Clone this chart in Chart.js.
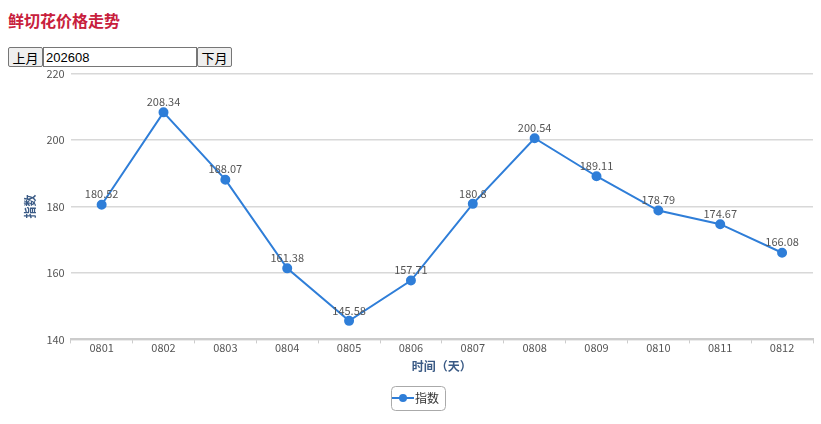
<!DOCTYPE html>
<html>
<head>
<meta charset="utf-8">
<script src="https://cdn.jsdelivr.net/npm/chart.js@4"></script>
<style>
  body { margin: 0; background: #fff; font-family: "Noto Sans CJK SC", sans-serif; }
  h3 { position: absolute; left: 8px; top: 8px; margin: 0; font-size: 16px; font-weight: bold; color: #c8203c; }
  .ctrl { position: absolute; left: 8px; top: 47px; display: flex; }
  .ctrl button { height: 20px; padding: 0 3.5px; font-size: 13px; font-family: "Noto Sans CJK SC", sans-serif; border: 1px solid #767676; background: #efefef; border-radius: 2px; }
  .ctrl input { width: 148px; height: 16px; padding: 1px 2px; font-size: 13px; border: 1px solid #767676; font-family: Arial, sans-serif; }
  #wrap { position: absolute; left: 0; top: 61px; width: 821px; height: 363px; }
</style>
</head>
<body>
<h3>鲜切花价格走势</h3>
<div class="ctrl"><button>上月</button><input value="202608"><button>下月</button></div>
<div id="wrap"><canvas id="myChart"></canvas></div>
<script>
const days = ["0801", "0802", "0803", "0804", "0805", "0806", "0807", "0808", "0809", "0810", "0811", "0812"];
const indexValues = [180.52, 208.34, 188.07, 161.38, 145.58, 157.71, 180.8, 200.54, 189.11, 178.79, 174.67, 166.08];
const yTicks = [140, 160, 180, 200, 220];

const blue = "#2f7ed8";
const font = "'Noto Sans CJK SC', sans-serif";

// little line + dot for the legend
const legendIcon = document.createElement("canvas");
legendIcon.width = 22;
legendIcon.height = 10;
const ic = legendIcon.getContext("2d");
ic.strokeStyle = blue;
ic.lineWidth = 2;
ic.beginPath();
ic.moveTo(0, 5);
ic.lineTo(22, 5);
ic.stroke();
ic.fillStyle = blue;
ic.beginPath();
ic.arc(11, 5, 4, 0, Math.PI * 2);
ic.fill();

const valueLabels = {
  id: "valueLabels",
  afterDatasetsDraw(chart) {
    const c = chart.ctx;
    const meta = chart.getDatasetMeta(0);
    c.save();
    c.font = "11px " + font;
    c.fillStyle = "#555";
    c.textAlign = "center";
    c.textBaseline = "bottom";
    meta.data.forEach((pt, i) => {
      c.fillText(String(indexValues[i]), pt.x, pt.y - 5);
    });
    c.restore();
  },
};

const legendBox = {
  id: "legendBox",
  afterDraw(chart) {
    const lg = chart.legend;
    if (!lg || !lg.legendHitBoxes.length) return;
    const h = lg.legendHitBoxes[0];
    const c = chart.ctx;
    const x = h.left - 6, y = h.top - 6, w = h.width + 12, hh = h.height + 12;
    c.save();
    c.strokeStyle = "#aaa";
    c.lineWidth = 1;
    c.beginPath();
    c.roundRect(x + 0.5, y + 0.5, w, hh, 4);
    c.stroke();
    c.restore();
  },
};

const ctx = document.getElementById("myChart");
new Chart(ctx, {
  type: "line",
  data: {
    labels: days,
    datasets: [
      {
        label: "指数",
        data: indexValues,
        borderColor: blue,
        backgroundColor: blue,
        borderWidth: 2,
        pointRadius: 4,
        pointHoverRadius: 5,
        tension: 0,
        fill: false,
      },
    ],
  },
  plugins: [valueLabels, legendBox],
  options: {
    responsive: true,
    maintainAspectRatio: false,
    animation: false,
    layout: { padding: { left: 23, right: 8, top: 2, bottom: 10 } },
    plugins: {
      tooltip: { enabled: false },
      legend: {
        position: "bottom",
        labels: {
          font: { family: font, size: 12 },
          color: "#333",
          padding: 18,
          generateLabels(chart) {
            return [{
              text: chart.data.datasets[0].label,
              pointStyle: legendIcon,
              fontColor: "#333",
              hidden: false,
              datasetIndex: 0,
            }];
          },
          usePointStyle: true,
        },
      },
    },
    scales: {
      x: {
        offset: true,
        grid: { drawOnChartArea: false, offset: true, tickLength: 4, color: "#ccc" },
        border: { color: "#ccc", width: 2 },
        ticks: { color: "#555", font: { family: font, size: 11 }, padding: -2 },
        title: {
          display: true,
          text: "时间（天）",
          color: "#3a5a85",
          font: { family: font, size: 12, weight: "bold" },
          padding: { top: 7, bottom: 0 },
        },
      },
      y: {
        min: yTicks[0],
        max: yTicks[yTicks.length - 1],
        afterBuildTicks(axis) {
          axis.ticks = yTicks.map((v) => ({ value: v }));
        },
        grid: { color: "#d8d8d8", lineWidth: 1.5, drawTicks: false },
        border: { display: false },
        ticks: { color: "#555", font: { family: font, size: 11 }, padding: 6 },
        title: {
          display: true,
          text: "指数",
          color: "#3a5a85",
          font: { family: font, size: 12, weight: "bold" },
          padding: { top: 0, bottom: 3 },
        },
      },
    },
  },
});
</script>
</body>
</html>
